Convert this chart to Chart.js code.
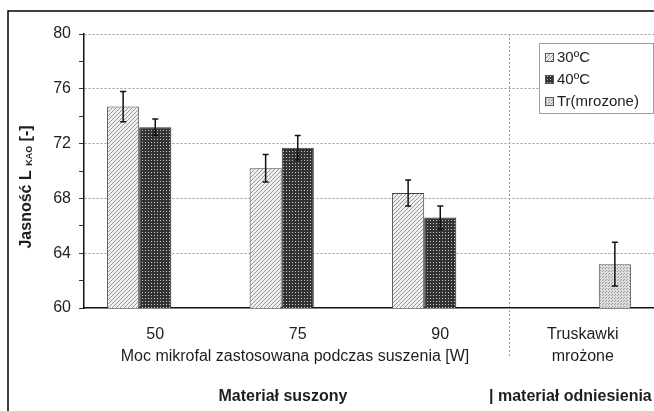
<!DOCTYPE html>
<html>
<head>
<meta charset="utf-8">
<script src="https://cdn.jsdelivr.net/npm/chart.js@4"></script>
<style>
  html, body { margin: 0; padding: 0; background: #fff; }
  #wrap { width: 654px; height: 411px; position: relative; }
</style>
</head>
<body>
<div id="wrap"><canvas id="chart" width="654" height="411"></canvas></div>
<script>
// data
const categories = ['50', '75', '90', ['Truskawki', 'mrożone']];
const series_names = ['30ºC', '40ºC', 'Tr(mrozone)'];
const values_30 = [74.7, 70.2, 68.4, null];
const values_40 = [73.2, 71.7, 66.6, null];
const values_tr = [null, null, null, 63.2];
const errors_30 = [1.1, 1.0, 0.95, null];
const errors_40 = [0.6, 0.9, 0.85, null];
const errors_tr = [null, null, null, 1.6];
const y_ticks = [60, 64, 68, 72, 76, 80];

// fill patterns for the bars
function make_pattern(kind)
{
    const c = document.createElement('canvas');
    const ctx = c.getContext('2d');
    if (kind === 'diag') {
        c.width = 4; c.height = 4;
        ctx.fillStyle = '#efefef';
        ctx.fillRect(0, 0, 4, 4);
        ctx.strokeStyle = '#999';
        ctx.lineWidth = 1;
        ctx.beginPath();
        ctx.moveTo(0, 4); ctx.lineTo(4, 0);
        ctx.moveTo(-1, 1); ctx.lineTo(1, -1);
        ctx.moveTo(3, 5); ctx.lineTo(5, 3);
        ctx.stroke();
    } else if (kind === 'check') {
        c.width = 3; c.height = 3;
        ctx.fillStyle = '#333';
        ctx.fillRect(0, 0, 3, 3);
        ctx.fillStyle = '#c8c8c8';
        ctx.fillRect(1, 1, 1, 1);
    } else {
        c.width = 3; c.height = 3;
        ctx.fillStyle = '#dcdcdc';
        ctx.fillRect(0, 0, 3, 3);
        ctx.fillStyle = '#9a9a9a';
        ctx.fillRect(0, 0, 1, 1);
        ctx.fillRect(2, 1, 1, 1);
    }
    return ctx.createPattern(c, 'repeat');
}
const patterns = [make_pattern('diag'), make_pattern('check'), make_pattern('dots')];
const errors = [errors_30, errors_40, errors_tr];

const FONT = 'Liberation Sans, Arial, sans-serif';
const TEXT = '#1e1e1e';

const extras = {
    id: 'extras',
    beforeDraw(chart) {
        const ctx = chart.ctx;
        const x = chart.scales.x;
        const area = chart.chartArea;
        ctx.save();
        // separator between dried and reference material
        const sx = (x.getPixelForValue(2) + x.getPixelForValue(3)) / 2 - 2;
        ctx.strokeStyle = '#9a9a9a';
        ctx.lineWidth = 1;
        ctx.setLineDash([2, 2]);
        ctx.beginPath();
        ctx.moveTo(sx, area.top);
        ctx.lineTo(sx, 357);
        ctx.stroke();
        ctx.restore();
    },
    afterDatasetsDraw(chart) {
        const ctx = chart.ctx;
        const y = chart.scales.y;
        ctx.save();
        ctx.strokeStyle = '#111';
        ctx.lineWidth = 1.5;
        chart.data.datasets.forEach((ds, i) => {
            const meta = chart.getDatasetMeta(i);
            meta.data.forEach((bar, j) => {
                const v = ds.data[j];
                const e = errors[i][j];
                if (v == null || e == null) return;
                const top = y.getPixelForValue(v + e);
                const bot = y.getPixelForValue(v - e);
                ctx.beginPath();
                ctx.moveTo(bar.x, top); ctx.lineTo(bar.x, bot);
                ctx.moveTo(bar.x - 3, top); ctx.lineTo(bar.x + 3, top);
                ctx.moveTo(bar.x - 3, bot); ctx.lineTo(bar.x + 3, bot);
                ctx.stroke();
            });
        });
        ctx.restore();
    },
    afterDraw(chart) {
        const ctx = chart.ctx;
        ctx.save();
        // outer frame
        ctx.strokeStyle = '#000';
        ctx.lineWidth = 1.5;
        ctx.beginPath();
        ctx.moveTo(8, 411); ctx.lineTo(8, 11); ctx.lineTo(654, 11);
        ctx.stroke();

        // y title with subscript
        ctx.translate(27, 187);
        ctx.rotate(-Math.PI / 2);
        ctx.fillStyle = TEXT;
        ctx.textBaseline = 'middle';
        const parts = [
            ['bold 16px ' + FONT, 'Jasność L ', 0],
            ['bold 9px ' + FONT, 'KAO', 3],
            ['bold 16px ' + FONT, ' [-]', 0]
        ];
        let w = 0;
        parts.forEach(p => { ctx.font = p[0]; w += ctx.measureText(p[1]).width; });
        let px = -w / 2;
        ctx.textAlign = 'left';
        parts.forEach(p => {
            ctx.font = p[0];
            ctx.fillText(p[1], px, p[2]);
            px += ctx.measureText(p[1]).width;
        });
        ctx.setTransform(1, 0, 0, 1, 0, 0);

        // x title and group labels
        ctx.fillStyle = TEXT;
        ctx.textBaseline = 'middle';
        ctx.textAlign = 'center';
        ctx.font = '16px ' + FONT;
        ctx.fillText('Moc mikrofal zastosowana podczas suszenia [W]', 295, 357);
        ctx.font = 'bold 16px ' + FONT;
        ctx.fillText('Materiał suszony', 283, 397);
        ctx.textAlign = 'left';
        ctx.fillText('| materiał odniesienia', 489, 397);

        // legend
        ctx.fillStyle = '#fff';
        ctx.fillRect(539, 43, 114, 70);
        ctx.strokeStyle = '#a0a0a0';
        ctx.lineWidth = 1;
        ctx.strokeRect(539.5, 43.5, 114, 70);
        series_names.forEach((name, i) => {
            const cy = 57 + i * 22;
            ctx.fillStyle = patterns[i];
            ctx.fillRect(545, cy - 4, 8, 8);
            ctx.strokeStyle = '#555';
            ctx.strokeRect(545.5, cy - 3.5, 8, 8);
            ctx.fillStyle = TEXT;
            ctx.font = '15px ' + FONT;
            ctx.textAlign = 'left';
            ctx.fillText(name, 557, cy + 1);
        });
        ctx.restore();
    }
};

const ctx_chart = document.getElementById('chart').getContext('2d');
const chart = new Chart(ctx_chart, {
    type: 'bar',
    data: {
        labels: categories,
        datasets: [
            { label: series_names[0], data: values_30, backgroundColor: patterns[0], borderColor: '#444', borderWidth: 1 },
            { label: series_names[1], data: values_40, backgroundColor: patterns[1], borderColor: '#333', borderWidth: 1 },
            { label: series_names[2], data: values_tr, backgroundColor: patterns[2], borderColor: '#555', borderWidth: 1 }
        ]
    },
    options: {
        responsive: false,
        animation: false,
        events: [],
        layout: { padding: { left: 0, top: 34, right: 0, bottom: 0 } },
        datasets: { bar: { categoryPercentage: 0.676, barPercentage: 1.0 } },
        plugins: { legend: { display: false }, tooltip: { enabled: false } },
        scales: {
            x: {
                afterFit(scale) { scale.height = 103; },
                grid: { display: false },
                border: { color: '#111', width: 1.5 },
                ticks: { color: TEXT, font: { family: FONT, size: 16, lineHeight: 1.35 }, padding: 8, maxRotation: 0 }
            },
            y: {
                min: 60,
                max: 80,
                afterFit(scale) { scale.width = 84; },
                afterBuildTicks(scale) {
                    const t = [];
                    for (let v = 60; v <= 80; v += 2) t.push({ value: v });
                    scale.ticks = t;
                },
                border: { color: '#111', width: 1.5, dash: [2, 2] },
                grid: {
                    color: c => (y_ticks.includes(c.tick.value) && c.tick.value !== 60) ? '#9a9a9a' : 'rgba(0,0,0,0)',
                    tickColor: '#333',
                    tickLength: 5,
                    lineWidth: 1
                },
                ticks: {
                    color: TEXT,
                    font: { family: FONT, size: 16 },
                    padding: 8,
                    callback: v => y_ticks.includes(v) ? String(v) : ''
                }
            }
        }
    },
    plugins: [extras]
});
</script>
</body>
</html>
